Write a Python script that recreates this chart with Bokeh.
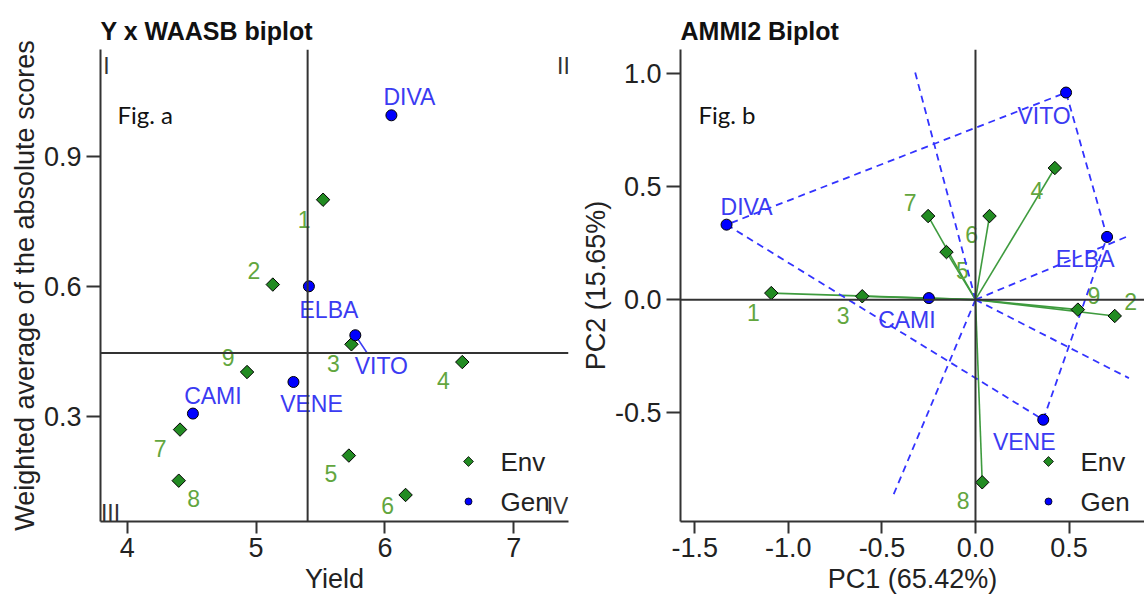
import math
from bokeh.plotting import figure
from bokeh.layouts import row
from bokeh.models import Range1d, FixedTicker, Span
from bokeh.core.properties import value
from bokeh.embed import file_html
from bokeh.resources import INLINE

# ---------------- data: Fig. a  (Y x WAASB biplot) ----------------
env_names = ["1", "2", "3", "4", "5", "6", "7", "8", "9"]
env_yield = [5.52, 5.13, 5.74, 6.60, 5.72, 6.16, 4.41, 4.40, 4.93]
env_waasb = [0.800, 0.604, 0.466, 0.425, 0.209, 0.118, 0.269, 0.151, 0.402]
gen_names = ["CAMI", "DIVA", "ELBA", "VENE", "VITO"]
gen_yield = [4.51, 6.05, 5.41, 5.29, 5.77]
gen_waasb = [0.306, 0.995, 0.600, 0.379, 0.487]
mean_yield = 5.40
mean_waasb = 0.446
quadrants = ["I", "II", "III", "IV"]
a_xticks = [4, 5, 6, 7]
a_yticks = [0.3, 0.6, 0.9]

# ---------------- data: Fig. b  (AMMI2 biplot) ----------------
env_pc1 = [-1.091, 0.744, -0.605, 0.424, -0.155, 0.075, -0.253, 0.036, 0.547]
env_pc2 = [0.029, -0.072, 0.015, 0.581, 0.210, 0.369, 0.369, -0.806, -0.044]
gen_pc1 = [-0.249, -1.330, 0.703, 0.362, 0.484]
gen_pc2 = [0.007, 0.331, 0.277, -0.530, 0.914]
pc1_pct = "65.42%"
pc2_pct = "15.65%"
# length of the "which-won-where" rays (perpendicular to polygon sides)
ray_len = {frozenset(["DIVA", "VITO"]): 1.06, frozenset(["VITO", "ELBA"]): 0.87,
           frozenset(["ELBA", "VENE"]): 0.89, frozenset(["VENE", "DIVA"]): 0.98}
b_xticks = [-1.5, -1.0, -0.5, 0.0, 0.5]
b_xlabels = ["-1.5", "-1.0", "-0.5", "0.0", "0.5"]
b_yticks = [-0.5, 0.0, 0.5, 1.0]
b_ylabels = ["-0.5", "0.0", "0.5", "1.0"]

# ---------------- styles / label placement (pixels) ----------------
FONT = "Liberation Sans"
ENV_FILL = "#228B22"
GEN_FILL = "#0000FF"
ENV_TXT = "#62A63E"
GEN_TXT = "#3B3BF2"
AX = "#333333"
a_env_off = [(-19, 20), (-19, -14), (-18, 19), (-19, 18), (-18, 18), (-18, 11), (-20, 19), (15, 18), (-19, -15)]
a_gen_off = [(20, -18), (18, -18), (20, 24), (18, 22), (26, 31)]
b_env_off = [(-18, 19), (16, -14), (-19, 19), (-18, 22), (16, 18), (-18, 18), (-18, -14), (-19, 18), (16, -14)]
b_gen_off = [(-22, 22), (20, -18), (-22, 22), (-19, 22), (-22, 23)]

FH = 472          # frame height
TOP = 49          # border above frame
H = 601

geo_a = dict(W=574, L=100, R=6, xr=(3.793, 7.424), yr=(0.0567, 1.147))
geo_b = dict(W=570, L=106, R=0, xr=(-1.576, 0.903), yr=(-0.979, 1.104))
for g in (geo_a, geo_b):
    g["fw"] = g["W"] - g["L"] - g["R"]


def fdata(g, fx, fy):
    """frame pixel (from top-left) -> data coordinates"""
    x0, x1 = g["xr"]
    y0, y1 = g["yr"]
    return x0 + fx / g["fw"] * (x1 - x0), y1 - fy / FH * (y1 - y0)


def make_fig(g, title, xlab, ylab):
    p = figure(width=g["W"], height=H, x_range=Range1d(*g["xr"]), y_range=Range1d(*g["yr"]),
               output_backend="svg", toolbar_location=None,
               min_border_left=g["L"], min_border_right=g["R"],
               min_border_top=TOP, min_border_bottom=H - TOP - FH)
    p.title.text = title
    p.title.text_font = FONT
    p.title.text_font_size = "25px"
    p.title.text_font_style = "bold"
    p.title.text_color = "#111111"
    p.title.align = "left"
    p.title.offset = 0
    p.title.standoff = 9
    p.outline_line_color = None
    p.xgrid.visible = False
    p.ygrid.visible = False
    p.background_fill_color = "white"
    p.border_fill_color = "white"
    for ax in (p.xaxis[0], p.yaxis[0]):
        ax.axis_line_color = AX
        ax.axis_line_width = 2
        ax.major_tick_line_color = AX
        ax.major_tick_line_width = 2
        ax.major_tick_in = 0
        ax.minor_tick_out = 0
        ax.minor_tick_in = 0
        ax.major_label_text_font = FONT
        ax.major_label_text_font_size = "27px"
        ax.major_label_text_color = "#222222"
        ax.axis_label_text_font = FONT
        ax.axis_label_text_font_size = "27px"
        ax.axis_label_text_font_style = "normal"
        ax.axis_label_text_color = "#222222"
    p.xaxis.major_tick_out = 12
    p.yaxis.major_tick_out = 14
    p.xaxis.major_label_standoff = 4
    p.yaxis.major_label_standoff = 5
    p.xaxis.axis_label_standoff = 4
    p.yaxis.axis_label_standoff = 1
    p.xaxis.axis_label = xlab
    p.yaxis.axis_label = ylab
    return p


def add_legend(p, g, fx, fy):
    (ex, ey) = fdata(g, fx, fy)
    (gx, gy) = fdata(g, fx, fy + 40)
    p.scatter([ex], [ey], marker="square", angle=math.pi / 4, size=7,
              fill_color=ENV_FILL, line_color="black", line_width=0.8)
    p.scatter([gx], [gy], marker="circle", size=7, fill_color=GEN_FILL,
              line_color="black", line_width=0.8)
    p.text([ex, gx], [ey, gy], text=["Env", "Gen"], x_offset=32, text_align="left",
           text_baseline="middle", text_font=value(FONT), text_font_size="26px",
           text_color="#222222")


def add_labels(p, xs, ys, names, offs, color):
    p.text(xs, ys, text=names, x_offset=[o[0] for o in offs], y_offset=[o[1] for o in offs],
           text_align="center", text_baseline="middle", text_font=value(FONT),
           text_font_size="23px", text_color=color)


# ======================= Fig. a =======================
pa = make_fig(geo_a, "Y x WAASB biplot", "Yield", "Weighted average of the absolute scores")
pa.xaxis.ticker = FixedTicker(ticks=a_xticks)
pa.yaxis.ticker = FixedTicker(ticks=a_yticks)
pa.add_layout(Span(location=mean_yield, dimension="height", line_color=AX, line_width=2))
pa.add_layout(Span(location=mean_waasb, dimension="width", line_color=AX, line_width=2))

# quadrant numerals
qa_pos = [(6, 16), (geo_a["fw"] - 5, 16), (10, FH - 9), (geo_a["fw"] - 11, FH - 16)]
qx, qy = zip(*[fdata(geo_a, *q) for q in qa_pos])
pa.text(list(qx), list(qy), text=quadrants, text_align="center", text_baseline="middle",
        text_font=value(FONT), text_font_size="23px", text_color="#333333")
fx_, fy_ = fdata(geo_a, 17, 65)
pa.text([fx_], [fy_], text=["Fig. a"], text_align="left", text_baseline="middle",
        text_font=value("Lato"), text_font_size="24px", text_color="#111111")

# VITO repel segment
ia = gen_names.index("VITO")
dxu = (geo_a["xr"][1] - geo_a["xr"][0]) / geo_a["fw"]
dyu = (geo_a["yr"][1] - geo_a["yr"][0]) / FH
pa.segment(x0=[gen_yield[ia] + 2 * dxu], y0=[gen_waasb[ia] - 3 * dyu],
           x1=[gen_yield[ia] + 12 * dxu], y1=[gen_waasb[ia] - 18 * dyu],
           line_color=GEN_TXT, line_width=1.5)

add_labels(pa, env_yield, env_waasb, env_names, a_env_off, ENV_TXT)
add_labels(pa, gen_yield, gen_waasb, gen_names, a_gen_off, GEN_TXT)
pa.scatter(env_yield, env_waasb, marker="square", angle=math.pi / 4, size=9.5,
           fill_color=ENV_FILL, line_color="black", line_width=1)
pa.scatter(gen_yield, gen_waasb, marker="circle", size=11, fill_color=GEN_FILL,
           line_color="black", line_width=1)
add_legend(pa, geo_a, 368, 412)

# ======================= Fig. b =======================
pb = make_fig(geo_b, "AMMI2 Biplot", "PC1 (" + pc1_pct + ")", "PC2 (" + pc2_pct + ")")
pb.xaxis.ticker = FixedTicker(ticks=b_xticks)
pb.yaxis.ticker = FixedTicker(ticks=b_yticks)
pb.xaxis.major_label_overrides = {t: s for t, s in zip(b_xticks, b_xlabels)}
pb.yaxis.major_label_overrides = {t: s for t, s in zip(b_yticks, b_ylabels)}
pb.add_layout(Span(location=0, dimension="height", line_color=AX, line_width=2))
pb.add_layout(Span(location=0, dimension="width", line_color=AX, line_width=2))
fx_, fy_ = fdata(geo_b, 18, 65)
pb.text([fx_], [fy_], text=["Fig. b"], text_align="left", text_baseline="middle",
        text_font=value("Lato"), text_font_size="24px", text_color="#111111")

# vectors from origin to environments
pb.segment(x0=[0] * len(env_pc1), y0=[0] * len(env_pc1), x1=env_pc1, y1=env_pc2,
           line_color="#3E9B3E", line_width=1.6)

add_labels(pb, env_pc1, env_pc2, env_names, b_env_off, ENV_TXT)
add_labels(pb, gen_pc1, gen_pc2, gen_names, b_gen_off, GEN_TXT)

# convex hull of genotypes (monotone chain)
pts = sorted(zip(gen_pc1, gen_pc2, gen_names))


def cross(o, a, b):
    return (a[0] - o[0]) * (b[1] - o[1]) - (a[1] - o[1]) * (b[0] - o[0])


lower, upper = [], []
for pt in pts:
    while len(lower) >= 2 and cross(lower[-2], lower[-1], pt) <= 0:
        lower.pop()
    lower.append(pt)
for pt in reversed(pts):
    while len(upper) >= 2 and cross(upper[-2], upper[-1], pt) <= 0:
        upper.pop()
    upper.append(pt)
hull = lower[:-1] + upper[:-1]
hx = [h[0] for h in hull] + [hull[0][0]]
hy = [h[1] for h in hull] + [hull[0][1]]
pb.line(hx, hy, line_color="#3333FF", line_width=1.8, line_dash="7 5")

rx1, ry1 = [], []
for i in range(len(hull)):
    a, b = hull[i], hull[(i + 1) % len(hull)]
    dx, dy = b[0] - a[0], b[1] - a[1]
    t = -(a[0] * dx + a[1] * dy) / (dx * dx + dy * dy)
    fx, fy = a[0] + t * dx, a[1] + t * dy
    n = math.hypot(fx, fy)
    L = ray_len[frozenset([a[2], b[2]])]
    rx1.append(fx / n * L)
    ry1.append(fy / n * L)
pb.segment(x0=[0] * len(rx1), y0=[0] * len(rx1), x1=rx1, y1=ry1,
           line_color="#3333FF", line_width=1.8, line_dash="7 5")

pb.scatter(env_pc1, env_pc2, marker="square", angle=math.pi / 4, size=9.5,
           fill_color=ENV_FILL, line_color="black", line_width=1)
pb.scatter(gen_pc1, gen_pc2, marker="circle", size=11, fill_color=GEN_FILL,
           line_color="black", line_width=1)
add_legend(pb, geo_b, 368, 412)

layout = row(pa, pb, spacing=0)
open("out.html", "w").write(file_html(layout, INLINE))
